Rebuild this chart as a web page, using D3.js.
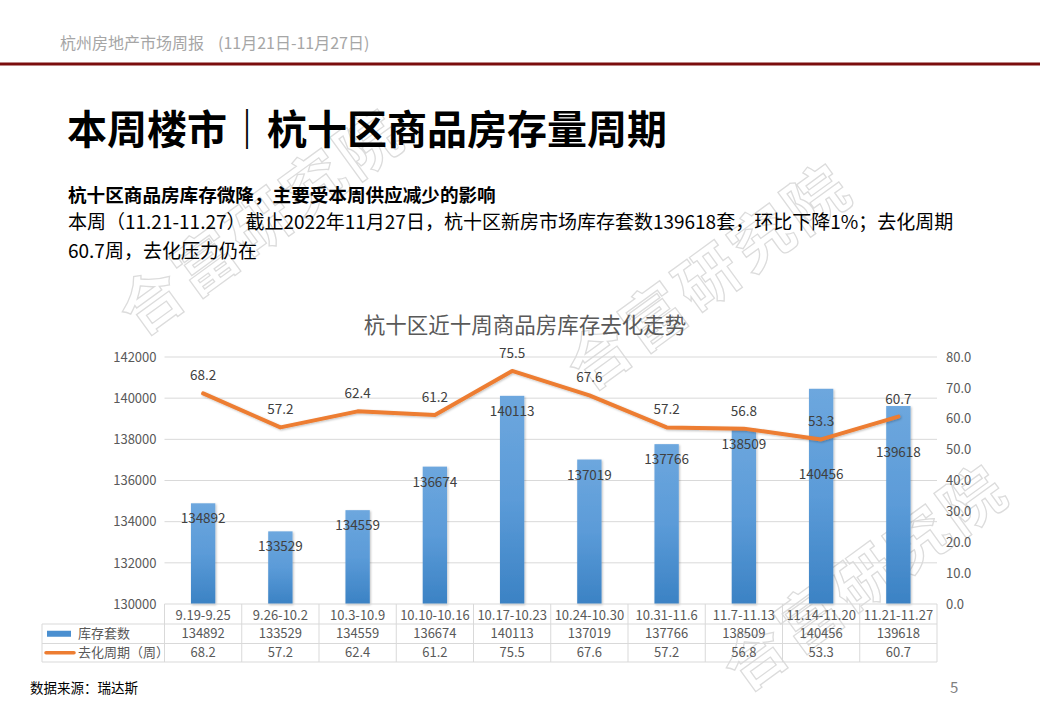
<!DOCTYPE html>
<html><head><meta charset="utf-8">
<script src="https://cdn.jsdelivr.net/npm/d3@7"></script>
<style>
body{margin:0;background:#fff}
svg{display:block}
text{font-family:"Noto Sans CJK SC","Noto Sans",sans-serif}
</style>
</head><body>
<svg id="c" width="1040" height="720"></svg>
<script>
// ---------- data ----------
const categories = ["9.19-9.25","9.26-10.2","10.3-10.9","10.10-10.16","10.17-10.23","10.24-10.30","10.31-11.6","11.7-11.13","11.14-11.20","11.21-11.27"];
const inventory = [134892,133529,134559,136674,140113,137019,137766,138509,140456,139618];
const cycleWeeks = [68.2,57.2,62.4,61.2,75.5,67.6,57.2,56.8,53.3,60.7];
const leftTicks = [130000,132000,134000,136000,138000,140000,142000];
const rightTicks = [0,10,20,30,40,50,60,70,80];
const seriesNames = ["库存套数","去化周期（周）"];

const headerText = "杭州房地产市场周报";
const headerDate = "(11月21日-11月27日)";
const pageTitle = "本周楼市｜杭十区商品房存量周期";
const subTitle = "杭十区商品房库存微降，主要受本周供应减少的影响";
const bodyLine1 = "本周（11.21-11.27）截止2022年11月27日，杭十区新房市场库存套数139618套，环比下降1%；去化周期";
const bodyLine2 = "60.7周，去化压力仍在";
const chartTitle = "杭十区近十周商品房库存去化走势";
const sourceText = "数据来源：瑞达斯";
const pageNo = "5";
const watermark = "合富研究院";

// ---------- layout ----------
const svg = d3.select("#c");
const plotL = 164.5, plotR = 937, plotT = 357, plotB = 604;
const tableL = 42, rowH = [20, 19.5, 18.5];

const defs = svg.append("defs");
const grad = defs.append("linearGradient").attr("id","barG").attr("x1",0).attr("y1",0).attr("x2",0).attr("y2",1);
grad.append("stop").attr("offset","0%").attr("stop-color","#6da7de");
grad.append("stop").attr("offset","50%").attr("stop-color","#5b9bd8");
grad.append("stop").attr("offset","100%").attr("stop-color","#3b82c4");
const sh = defs.append("filter").attr("id","sh").attr("x","-30%").attr("y","-10%").attr("width","160%").attr("height","130%");
sh.append("feDropShadow").attr("dx",1).attr("dy",1).attr("stdDeviation",1.2).attr("flood-color","#000").attr("flood-opacity",0.25);

// watermarks (behind content, light outline)
[[262,222],[710,277],[866,578]].forEach(([mx,my])=>{
  svg.append("text").attr("transform",`translate(${mx},${my}) rotate(-36)`)
    .attr("text-anchor","middle").attr("dy","0.35em").attr("font-size",62).attr("font-weight","bold")
    .attr("letter-spacing",5)
    .attr("fill","#ffffff").attr("stroke","#dcdcdc").attr("stroke-width",1.3)
    .text(watermark);
});

// header
svg.append("text").attr("x",60).attr("y",49).attr("font-size",16).attr("fill","#a6a6a6").text(headerText);
svg.append("text").attr("x",218).attr("y",49).attr("font-size",16).attr("fill","#a6a6a6").text(headerDate);
svg.append("rect").attr("x",0).attr("y",62.5).attr("width",1040).attr("height",3).attr("fill","#7b0d0d");

svg.append("text").attr("x",67).attr("y",144).attr("font-size",40).attr("font-weight","bold").attr("fill","#000").text(pageTitle);
svg.append("text").attr("x",68).attr("y",201.5).attr("font-size",18.6).attr("font-weight","bold").attr("fill","#000").text(subTitle);
svg.append("text").attr("x",68).attr("y",229).attr("font-size",19).attr("fill","#000").text(bodyLine1);
svg.append("text").attr("x",68).attr("y",258).attr("font-size",19).attr("fill","#000").text(bodyLine2);

svg.append("text").attr("x",525).attr("y",333).attr("text-anchor","middle").attr("font-size",21.5).attr("fill","#595959").text(chartTitle);

// scales
const x = d3.scaleBand().domain(categories).range([plotL, plotR]).padding(0);
const yL = d3.scaleLinear().domain([130000,142000]).range([plotB, plotT]);
const yR = d3.scaleLinear().domain([0,80]).range([plotB, plotT]);
const cx = c => x(c) + x.bandwidth()/2;
const barW = x.bandwidth()*0.315;

// grid
svg.append("g").selectAll("line").data(leftTicks.filter(t=>t>130000)).join("line")
  .attr("x1",plotL).attr("x2",plotR).attr("y1",d=>yL(d)).attr("y2",d=>yL(d))
  .attr("stroke","#d9d9d9").attr("stroke-width",1);

// axes
const axL = svg.append("g").attr("transform",`translate(${plotL},0)`)
  .call(d3.axisLeft(yL).tickValues(leftTicks).tickFormat(d3.format("d")).tickSize(0).tickPadding(8));
axL.select(".domain").remove();
axL.selectAll("text").attr("font-size",13).attr("fill","#595959").style("font-family",'"Noto Sans CJK SC",sans-serif');
const axR = svg.append("g").attr("transform",`translate(${plotR},0)`)
  .call(d3.axisRight(yR).tickValues(rightTicks).tickFormat(d3.format(".1f")).tickSize(0).tickPadding(9));
axR.select(".domain").remove();
axR.selectAll("text").attr("font-size",13).attr("fill","#595959").style("font-family",'"Noto Sans CJK SC",sans-serif');

// bars
svg.append("g").selectAll("rect").data(inventory).join("rect")
  .attr("x",(d,i)=>cx(categories[i])-barW/2).attr("width",barW)
  .attr("y",d=>yL(d)).attr("height",d=>plotB-yL(d))
  .attr("fill","url(#barG)").attr("filter","url(#sh)");

// line
const lineGen = d3.line().x((d,i)=>cx(categories[i])).y(d=>yR(d));
svg.append("path").datum(cycleWeeks).attr("d",lineGen).attr("fill","none")
  .attr("stroke","#ed7d31").attr("stroke-width",4).attr("stroke-linejoin","round").attr("stroke-linecap","round")
  .attr("filter","url(#sh)");

// bar labels (inside end; pushed under the line where the line crosses the bar)
svg.append("g").selectAll("text").data(inventory).join("text")
  .attr("x",(d,i)=>cx(categories[i]))
  .attr("y",(d,i)=>{ const top=yL(d), ly=yR(cycleWeeks[i]); return (ly>top+5 ? ly+35 : top+15)+5; })
  .attr("text-anchor","middle").attr("font-size",13.5).attr("fill","#404040").text(d=>d);

// line labels
svg.append("g").selectAll("text").data(cycleWeeks).join("text")
  .attr("x",(d,i)=>cx(categories[i])).attr("y",d=>yR(d)-18+5)
  .attr("text-anchor","middle").attr("font-size",13.5).attr("fill","#404040").text(d=>d.toFixed(1));

// data table
const tb = svg.append("g");
const r0 = plotB, r1 = r0+rowH[0], r2 = r1+rowH[1], r3 = r2+rowH[2];
const bc = "#d9d9d9";
tb.append("line").attr("x1",plotL).attr("x2",plotR).attr("y1",r0).attr("y2",r0).attr("stroke",bc);
[r1,r2,r3].forEach(y=>tb.append("line").attr("x1",tableL).attr("x2",plotR).attr("y1",y).attr("y2",y).attr("stroke",bc));
tb.append("line").attr("x1",tableL).attr("x2",tableL).attr("y1",r1).attr("y2",r3).attr("stroke",bc);
categories.forEach(c=>tb.append("line").attr("x1",x(c)).attr("x2",x(c)).attr("y1",r0).attr("y2",r3).attr("stroke",bc));
tb.append("line").attr("x1",plotR).attr("x2",plotR).attr("y1",r0).attr("y2",r3).attr("stroke",bc);

const cellText = (vals, yc, fmt) => tb.append("g").selectAll("text").data(vals).join("text")
  .attr("x",(d,i)=>cx(categories[i])).attr("y",yc+4.5).attr("text-anchor","middle")
  .attr("font-size",13).attr("fill","#595959").text(fmt);
cellText(categories, (r0+r1)/2+1, d=>d);
cellText(inventory, (r1+r2)/2, d=>d);
cellText(cycleWeeks, (r2+r3)/2, d=>d.toFixed(1));

// legend keys in table
tb.append("rect").attr("x",47).attr("y",(r1+r2)/2-3).attr("width",24).attr("height",6).attr("fill","#4a8fd0");
tb.append("line").attr("x1",46).attr("x2",74).attr("y1",(r2+r3)/2).attr("y2",(r2+r3)/2).attr("stroke","#ed7d31").attr("stroke-width",3.5).attr("stroke-linecap","round");
tb.append("text").attr("x",78).attr("y",(r1+r2)/2+4.5).attr("font-size",13).attr("fill","#595959").text(seriesNames[0]);
tb.append("text").attr("x",78).attr("y",(r2+r3)/2+4.5).attr("font-size",13).attr("fill","#595959").text(seriesNames[1]);

// footer
svg.append("text").attr("x",30).attr("y",693).attr("font-size",13.5).attr("fill","#000").text(sourceText);
svg.append("text").attr("x",950).attr("y",693).attr("font-size",15).attr("fill","#808080").text(pageNo);
</script>
</body></html>
